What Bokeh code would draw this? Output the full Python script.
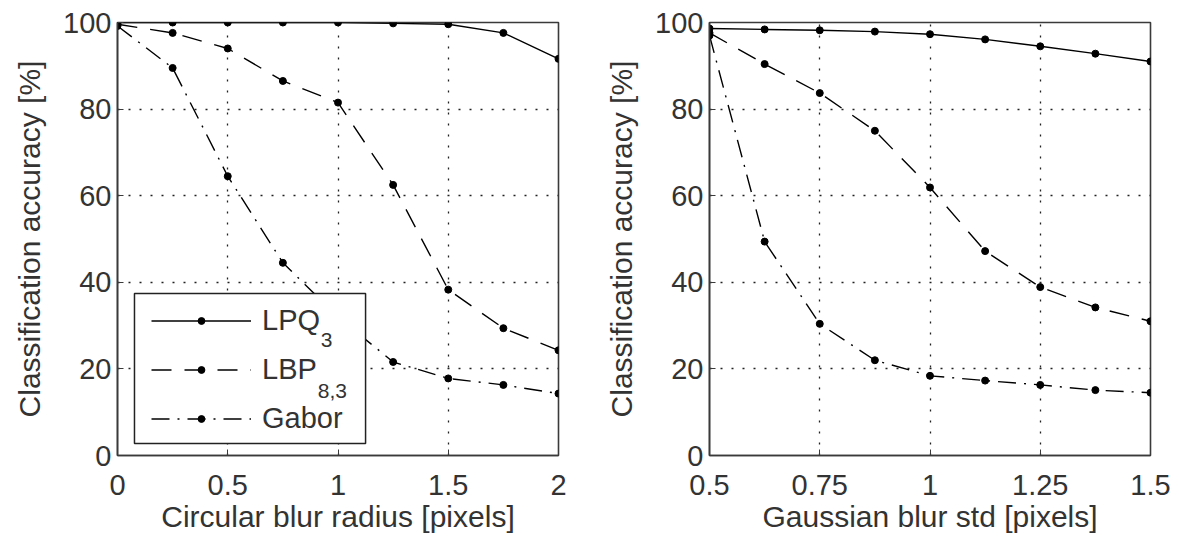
from bokeh.plotting import figure
from bokeh.layouts import row
from bokeh.models import Range1d, Legend, LegendItem, Label, FixedTicker, BoxAnnotation
from bokeh.embed import file_html
from bokeh.resources import INLINE

# ---- data ----
circ_x = [0, 0.25, 0.5, 0.75, 1.0, 1.25, 1.5, 1.75, 2.0]
circ_lpq = [100, 100, 100, 100, 100, 99.8, 99.6, 97.6, 91.6]
circ_lbp = [99.6, 97.6, 94.0, 86.5, 81.5, 62.5, 38.3, 29.4, 24.3]
circ_gabor = [99.2, 89.5, 64.5, 44.5, 32.0, 21.6, 17.8, 16.3, 14.3]

gauss_x = [0.5, 0.625, 0.75, 0.875, 1.0, 1.125, 1.25, 1.375, 1.5]
gauss_lpq = [98.6, 98.4, 98.2, 97.9, 97.3, 96.1, 94.5, 92.8, 91.0]
gauss_lbp = [97.6, 90.4, 83.7, 75.0, 61.9, 47.2, 38.9, 34.2, 31.0]
gauss_gabor = [97.0, 49.4, 30.4, 22.0, 18.4, 17.3, 16.3, 15.1, 14.5]

y_ticks = [0, 20, 40, 60, 80, 100]
circ_ticks = [0, 0.5, 1, 1.5, 2]
circ_tick_labels = ["0", "0.5", "1", "1.5", "2"]
gauss_ticks = [0.5, 0.75, 1, 1.25, 1.5]
gauss_tick_labels = ["0.5", "0.75", "1", "1.25", "1.5"]

series_names = ["LPQ", "LBP", "Gabor"]
series_subs = ["3", "8,3", ""]

FONT = "Liberation Sans"
TXT = "#333333"
DASHES = ["solid", "20 13", "18 8 2 8"]


def make_panel(xs, ys_list, xr, ticks, tick_labels, xlabel, left_border, right_border):
    p = figure(
        frame_width=441, frame_height=433,
        min_border_left=left_border, min_border_right=right_border,
        min_border_top=22, min_border_bottom=0,
        x_range=Range1d(*xr), y_range=Range1d(0, 100),
        output_backend="svg", toolbar_location=None,
    )
    p.background_fill_color = "white"
    p.border_fill_color = "white"
    p.outline_line_color = "#3a3a3a"
    p.outline_line_width = 1.6

    p.xaxis.ticker = FixedTicker(ticks=ticks)
    p.xaxis.major_label_overrides = {t: l for t, l in zip(ticks, tick_labels)}
    p.yaxis.ticker = FixedTicker(ticks=y_ticks)
    p.xaxis.axis_label = xlabel
    p.yaxis.axis_label = "Classification accuracy [%]"
    for ax in (p.xaxis, p.yaxis):
        ax.axis_label_text_font = FONT
        ax.axis_label_text_font_size = "30px"
        ax.axis_label_text_font_style = "normal"
        ax.axis_label_text_color = TXT
        ax.major_label_text_font = FONT
        ax.major_label_text_font_size = "29px"
        ax.major_label_text_color = TXT
        ax.major_tick_in = 6
        ax.major_tick_out = 0
        ax.minor_tick_line_color = None
        ax.axis_line_color = "#3a3a3a"
        ax.axis_line_width = 1.6
        ax.major_tick_line_color = "#3a3a3a"
    p.xaxis.major_label_standoff = 19
    p.xaxis.axis_label_standoff = 2
    p.yaxis.major_label_standoff = 6
    p.yaxis.axis_label_standoff = 14

    for g in (p.xgrid, p.ygrid):
        g.grid_line_color = "#222222"
        g.grid_line_dash = "2 9"
        g.grid_line_width = 1.3

    items = []
    for ys, dash, name in zip(ys_list, DASHES, series_names):
        lr = p.line(xs, ys, line_color="black", line_width=1.4, line_dash=dash)
        sr = p.scatter(xs, ys, size=7, color="black")
        items.append(LegendItem(label=name, renderers=[lr, sr]))
    return p, items


p1, items = make_panel(circ_x, [circ_lpq, circ_lbp, circ_gabor], (0, 2), circ_ticks,
                       circ_tick_labels, "Circular blur radius [pixels]", 117, 41)

# white legend box with border (drawn beneath the legend entries and subscripts)
p1.add_layout(BoxAnnotation(left=0.077, right=1.125, bottom=2.8, top=37.4,
                            fill_color="white", fill_alpha=1.0,
                            line_color="#222222", line_width=1.5, line_alpha=1.0,
                            level="annotation"))

legend = Legend(
    items=items, location=(34, 20),
    label_text_font=FONT, label_text_font_size="29px", label_text_color=TXT,
    glyph_width=100, glyph_height=17, label_height=30, label_width=90,
    label_standoff=11, spacing=16, padding=10, margin=0,
    border_line_color=None, background_fill_alpha=0.0,
)
p1.add_layout(legend, "center")

# subscripts for legend labels
sub_x = [0.922, 0.908]
sub_y = [26.6, 14.9]
for sx, sy, s in zip(sub_x, sub_y, series_subs[:2]):
    p1.add_layout(Label(x=sx, y=sy, text=s, text_font=FONT, text_font_size="21px",
                        text_color=TXT, text_baseline="alphabetic", level="overlay"))

p2, _ = make_panel(gauss_x, [gauss_lpq, gauss_lbp, gauss_gabor], (0.5, 1.5), gauss_ticks,
                   gauss_tick_labels, "Gaussian blur std [pixels]", 110, 25)

layout = row(p1, p2)
open("out.html", "w").write(file_html(layout, INLINE))
